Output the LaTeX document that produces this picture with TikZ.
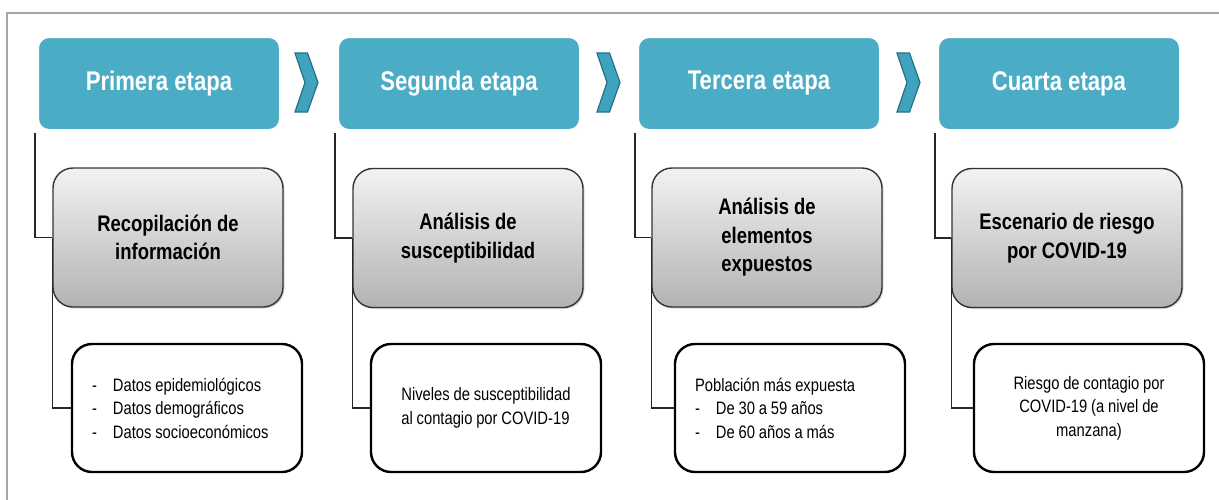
\documentclass[tikz,border=0pt]{standalone}
\usepackage{fontspec}
\setmainfont{Liberation Sans}[FakeStretch=0.82]
\usetikzlibrary{shadows}
\definecolor{teal}{HTML}{4BACC6}
\definecolor{chevfill}{HTML}{3FA3BE}
\definecolor{tealdark}{HTML}{276F84}
\definecolor{frame}{HTML}{A6A6A6}
\newcommand{\tightspace}{\spaceskip=3.8pt plus 1pt minus 1pt\relax}
\tikzset{
  header/.style={rounded corners=12pt, fill=teal, draw=white, line width=4pt,
    minimum width=244pt, minimum height=95pt, inner sep=0pt,
    text=white, font=\bfseries\fontsize{27}{30}\selectfont,
    drop shadow={opacity=0.3, shadow xshift=1pt, shadow yshift=-1.5pt}},
  graybox/.style={rounded corners=20pt, draw=black!80, line width=1.4pt,
    top color=black!5, bottom color=black!30,
    minimum width=230pt, minimum height=139pt, inner sep=0pt, align=center,
    font=\bfseries\fontsize{22.5}{28.5}\selectfont,
    drop shadow={opacity=0.3, shadow xshift=1.5pt, shadow yshift=-1.5pt}},
  whitebox/.style={rounded corners=20pt, draw=black, line width=2.4pt, fill=white,
    minimum width=230pt, minimum height=128pt, inner sep=0pt,
    font=\fontsize{18}{23.5}\selectfont, execute at begin node=\tightspace},
  chev/.style={fill=chevfill, draw=tealdark, line width=1.2pt, line join=miter},
  link/.style={draw=black!85, line width=1.4pt}
}
\newcommand{\chevron}[1]{\path[chev] (#1,53) -- ++(12.5,0) -- ++(10.5,29.5) -- ++(-10.5,29.5) -- ++(-12.5,0) -- ++(10,-29.5) -- cycle;}
\newcommand{\dashitem}[1]{\makebox[21pt][l]{-}#1}
\begin{document}
\begin{tikzpicture}[x=1pt,y=-1pt]
\useasboundingbox (0,0) rectangle (1219,499);
\clip (0,0) rectangle (1219,499);
\fill[white] (0,0) rectangle (1219,499);
\draw[frame, line width=1.3pt] (7,510) -- (7,13) -- (1230,13);

% headers
\node[header] (h1) at (159,83.5) {Primera etapa};
\node[header] (h2) at (459,83.5) {Segunda etapa};
\node[header] (h3) at (759,83.5) {Tercera etapa};
\node[header] (h4) at (1059,83.5) {Cuarta etapa};

% chevrons
\chevron{295}
\chevron{597}
\chevron{897}

% gray boxes
\node[graybox] (g1) at (168,237.5) {Recopilación de\\información};
\node[graybox] (g2) at (468,238) {Análisis de\\susceptibilidad};
\node[graybox] (g3) at (767,237.5) {Análisis de\\elementos\\expuestos};
\node[graybox] (g4) at (1067,238) {Escenario de riesgo\\por COVID-19};

% white boxes
\node[whitebox, text width=190pt, inner xsep=20pt, align=left] (w1) at (187,408)
  {\dashitem{Datos epidemiológicos}\\\dashitem{Datos demográficos}\\\dashitem{Datos socioeconómicos}};
\node[whitebox, align=left] (w2) at (486,408)
  {Niveles de susceptibilidad\\al contagio por COVID-19};
\node[whitebox, text width=190pt, inner xsep=20pt, align=left] (w3) at (790,408)
  {Población más expuesta\\\dashitem{De 30 a 59 años}\\\dashitem{De 60 años a más}};
\node[whitebox, align=center] (w4) at (1089,408)
  {Riesgo de contagio por\\COVID-19 (a nivel de\\manzana)};

% connectors
\foreach \i in {1,2,3,4}{
  \draw[link] (h\i.south west) |- (g\i.west);
  \draw[link] (g\i.west) |- (w\i.west);
}
\end{tikzpicture}
\end{document}
